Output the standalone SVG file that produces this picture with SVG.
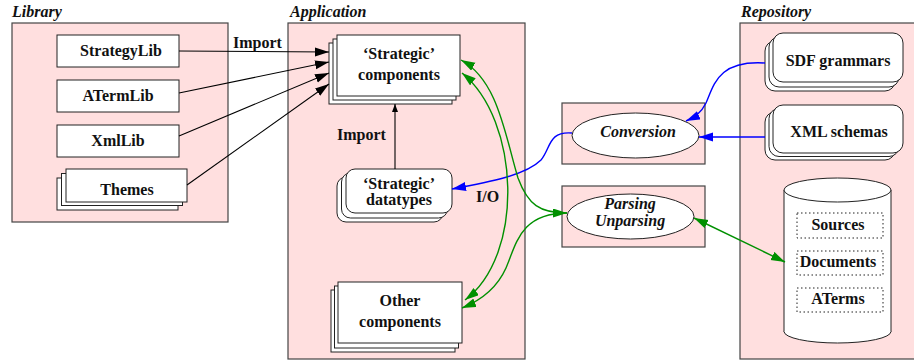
<svg xmlns="http://www.w3.org/2000/svg" width="914" height="361" viewBox="0 0 914 361">
<style>
.grp{fill:#ffdfdf;stroke:#444;stroke-width:1.2}
.box{fill:#fff;stroke:#222;stroke-width:1}
.wh{fill:#fff;stroke:none}
.dot{fill:none;stroke:#222;stroke-width:1;stroke-dasharray:1.5 2.5}
.t{font-family:"Liberation Serif",serif;font-weight:bold;font-size:16px;text-anchor:middle;fill:#111}
.ti{font-family:"Liberation Serif",serif;font-weight:bold;font-style:italic;font-size:16px;fill:#111}
.lbl{font-family:"Liberation Serif",serif;font-weight:bold;font-size:16px;fill:#111}
.k{fill:none;stroke:#000;stroke-width:1.1}
.b{fill:none;stroke:#0000ff;stroke-width:1.4}
.g{fill:none;stroke:#009000;stroke-width:1.4}
</style>
<defs>
<marker id="ak" markerUnits="userSpaceOnUse" markerWidth="16" markerHeight="10" refX="14" refY="4.5" orient="auto"><path d="M0,0 L14,4.5 L0,9 z" fill="#000"/></marker>
<marker id="aks" markerUnits="userSpaceOnUse" markerWidth="10" markerHeight="8" refX="8" refY="3" orient="auto"><path d="M0,0 L8,3 L0,6 z" fill="#000"/></marker>
<marker id="ab" markerUnits="userSpaceOnUse" markerWidth="16" markerHeight="10" refX="14" refY="4.5" orient="auto"><path d="M0,0 L14,4.5 L0,9 z" fill="#0000ff"/></marker>
<marker id="ag" markerUnits="userSpaceOnUse" markerWidth="16" markerHeight="10" refX="14" refY="4.5" orient="auto-start-reverse"><path d="M0,0 L14,4.5 L0,9 z" fill="#009000"/></marker>
</defs>

<g id="library">
<text class="ti" x="12" y="17">Library</text>
<rect class="grp" x="12" y="23" width="216" height="199"/>
</g>
<g id="application">
<text class="ti" x="290" y="17">Application</text>
<rect class="grp" x="288" y="23" width="237" height="336"/>
</g>
<g id="repository">
<text class="ti" x="741" y="17">Repository</text>
<rect class="grp" x="740" y="23" width="180" height="336"/>
</g>

<g id="strategylib"><rect class="box" x="57" y="35" width="122" height="32"/><text class="t" x="121" y="56">StrategyLib</text></g>
<g id="atermlib"><rect class="box" x="57" y="80" width="122" height="32"/><text class="t" x="118" y="101">ATermLib</text></g>
<g id="xmllib"><rect class="box" x="57" y="125" width="122" height="32"/><text class="t" x="118" y="146">XmlLib</text></g>
<g id="themes">
<rect class="box" x="57" y="178" width="121" height="32"/>
<rect class="box" x="61.5" y="173.5" width="121" height="32"/>
<rect class="box" x="66" y="169" width="121" height="33"/>
<text class="t" x="127" y="195">Themes</text>
</g>

<g id="strategic-components">
<rect class="box" x="329" y="43" width="123" height="61"/>
<rect class="box" x="333" y="39" width="123" height="61"/>
<rect class="box" x="337" y="35" width="123" height="61"/>
<text class="t" x="399" y="59">‘Strategic’</text>
<text class="t" x="399" y="80">components</text>
</g>
<g id="strategic-datatypes">
<rect class="box" x="337" y="177" width="106" height="45" rx="9"/>
<rect class="box" x="341.5" y="173" width="106" height="45" rx="9"/>
<rect class="box" x="346" y="169" width="106" height="44" rx="9"/>
<text class="t" x="399" y="189">‘Strategic’</text>
<text class="t" x="399" y="205">datatypes</text>
</g>
<g id="other-components">
<rect class="box" x="331" y="290" width="124" height="62"/>
<rect class="box" x="334.5" y="286" width="124" height="62"/>
<rect class="box" x="338" y="282" width="124" height="61"/>
<text class="t" x="400" y="306">Other</text>
<text class="t" x="400" y="327">components</text>
</g>

<g id="conversion">
<rect class="grp" x="562" y="103" width="143" height="61"/>
<ellipse class="box" cx="635.5" cy="135.5" rx="63.5" ry="22.5"/>
<text class="ti" x="638" y="137" text-anchor="middle">Conversion</text>
</g>
<g id="parsing">
<rect class="grp" x="562" y="186" width="143" height="61"/>
<ellipse class="box" cx="630.5" cy="216.5" rx="63.5" ry="22.5"/>
<text class="ti" x="630" y="209" text-anchor="middle">Parsing</text>
<text class="ti" x="630" y="226" text-anchor="middle">Unparsing</text>
</g>

<g id="sdf-grammars">
<rect class="box" x="765" y="41" width="130" height="50" rx="10"/>
<rect class="box" x="769" y="37" width="130" height="50" rx="10"/>
<rect class="box" x="773" y="33" width="130" height="49" rx="10"/>
<text class="t" x="838" y="66">SDF grammars</text>
</g>
<g id="xml-schemas">
<rect class="box" x="765" y="112" width="130" height="48" rx="10"/>
<rect class="box" x="769" y="108.5" width="130" height="48" rx="10"/>
<rect class="box" x="773" y="105" width="130" height="48" rx="10"/>
<text class="t" x="839" y="137">XML schemas</text>
</g>
<g id="store">
<ellipse class="box" cx="837.5" cy="331.5" rx="53.5" ry="11.5"/>
<rect class="wh" x="784" y="190" width="107" height="141.5"/>
<line class="k" x1="784" y1="190" x2="784" y2="331.5" style="stroke:#222;stroke-width:1"/>
<line class="k" x1="891" y1="190" x2="891" y2="331.5" style="stroke:#222;stroke-width:1"/>
<ellipse class="box" cx="837.5" cy="190" rx="53.5" ry="12"/>
<rect class="dot" x="797" y="213" width="86" height="25"/>
<text class="t" x="838" y="230">Sources</text>
<rect class="dot" x="797" y="251" width="86" height="24"/>
<text class="t" x="838" y="267">Documents</text>
<rect class="dot" x="797" y="288" width="86" height="24"/>
<text class="t" x="838" y="304">ATerms</text>
</g>

<g id="connectors">
<line class="k" x1="179" y1="51" x2="329" y2="52" marker-end="url(#ak)"/>
<line class="k" x1="179" y1="93" x2="329" y2="62" marker-end="url(#ak)"/>
<line class="k" x1="179" y1="136" x2="329" y2="73" marker-end="url(#ak)"/>
<line class="k" x1="187" y1="185" x2="329" y2="84" marker-end="url(#ak)"/>
<text class="lbl" x="233" y="48">Import</text>
<line class="k" x1="395" y1="169" x2="395" y2="104" marker-end="url(#aks)"/>
<text class="lbl" x="337" y="140">Import</text>

<path class="b" d="M765,63 C718,60 714,85 706,103 C701,113 695,117 686,121" marker-end="url(#ab)"/>
<path class="b" d="M765,137 L699,137" marker-end="url(#ab)"/>
<path class="b" d="M572,133 C548,131 551,148 541,160 C526,175 490,182 452,189" marker-end="url(#ab)"/>

<path class="g" d="M461,60 C498,80 505,135 518,178 C528,205 540,213 567,213" marker-start="url(#ag)" marker-end="url(#ag)"/>
<path class="g" d="M462,73 C520,120 525,255 465,300" marker-start="url(#ag)" marker-end="url(#ag)"/>
<path class="g" d="M567,213 C520,213 516,245 506,268 C497,288 482,300 462,308" marker-end="url(#ag)"/>
<line class="g" x1="694" y1="218" x2="785" y2="262" marker-start="url(#ag)" marker-end="url(#ag)"/>
<text class="lbl" x="476" y="202">I/O</text>
</g>
</svg>
